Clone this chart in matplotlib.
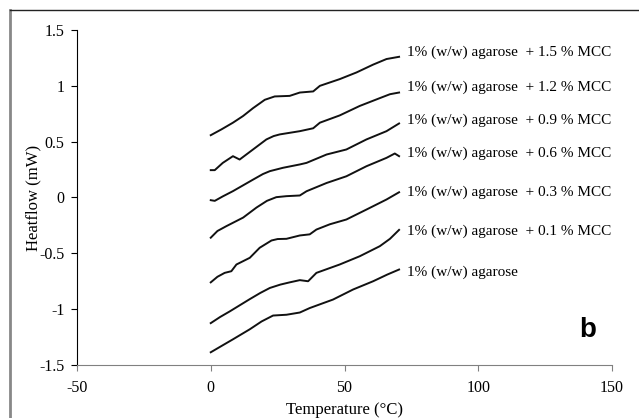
import matplotlib.pyplot as plt
from matplotlib.lines import Line2D

plt.rcParams['font.family'] = ['Liberation Serif', 'DejaVu Serif']

# temperature (°C) sample points and heatflow (mW) for each curve
t_agar = [0, 4.0, 8.3, 14.6, 19.0, 23.3, 28.3, 33.3, 37.0, 41.0, 45.7, 53.2, 60.7, 66.0, 70.4]
hf_agar = [-1.386, -1.33, -1.27, -1.18, -1.11, -1.057, -1.05, -1.03, -0.99, -0.955, -0.914,
           -0.824, -0.75, -0.69, -0.645]

t_01 = [0, 3.5, 7.1, 14.6, 18.5, 22.1, 26.0, 29.5, 33.3, 36.4, 39.5, 48.2, 55.7, 63.2, 67.0, 70.4]
hf_01 = [-1.125, -1.07, -1.02, -0.91, -0.855, -0.81, -0.78, -0.76, -0.74, -0.75, -0.675,
         -0.60, -0.526, -0.436, -0.37, -0.29]

t_03 = [0, 2.5, 5.2, 7.7, 9.6, 14.6, 18.3, 22.7, 25.0, 28.3, 33.3, 37.0, 39.5, 44.5, 50.7,
        58.2, 65.7, 70.4]
hf_03 = [-0.76, -0.71, -0.675, -0.66, -0.60, -0.54, -0.45, -0.385, -0.372, -0.37, -0.34,
         -0.33, -0.287, -0.24, -0.197, -0.108, -0.018, 0.047]

t_06 = [0, 2.5, 5.8, 12.1, 17.1, 21.0, 24.5, 28.3, 33.3, 35.8, 43.3, 50.7, 58.2, 65.7, 68.8, 70.4]
hf_06 = [-0.36, -0.30, -0.257, -0.18, -0.09, -0.03, 0.003, 0.012, 0.018, 0.056, 0.13, 0.19,
         0.28, 0.355, 0.394, 0.37]

t_09 = [0, 1.5, 4.5, 8.3, 15.8, 19.5, 22.1, 27.0, 33.3, 35.8, 43.3, 50.7, 58.2, 65.7, 70.4]
hf_09 = [-0.024, -0.03, 0.01, 0.057, 0.16, 0.21, 0.236, 0.266, 0.296, 0.31, 0.385, 0.43,
         0.52, 0.594, 0.663]

t_12 = [0, 1.5, 4.5, 8.3, 10.8, 15.8, 20.8, 23.5, 25.8, 33.3, 38.3, 40.8, 48.2, 55.7, 63.2,
        67.0, 70.4]
hf_12 = [0.245, 0.245, 0.31, 0.37, 0.34, 0.43, 0.52, 0.55, 0.565, 0.594, 0.62, 0.67, 0.735,
         0.82, 0.89, 0.925, 0.94]

t_15 = [0, 4.0, 8.3, 12.1, 15.8, 20.2, 23.9, 29.5, 33.3, 38.3, 40.8, 48.2, 54.5, 60.7, 65.7, 70.4]
hf_15 = [0.558, 0.61, 0.67, 0.73, 0.80, 0.875, 0.905, 0.91, 0.94, 0.95, 1.00, 1.06, 1.12,
         1.19, 1.24, 1.26]

labels = ['1% (w/w) agarose',
          '1% (w/w) agarose  + 0.1 % MCC',
          '1% (w/w) agarose  + 0.3 % MCC',
          '1% (w/w) agarose  + 0.6 % MCC',
          '1% (w/w) agarose  + 0.9 % MCC',
          '1% (w/w) agarose  + 1.2 % MCC',
          '1% (w/w) agarose  + 1.5 % MCC']
label_y = [-0.672, -0.305, 0.045, 0.394, 0.69, 0.986, 1.30]

fig = plt.figure(figsize=(6.39, 4.18), dpi=100)
ax = fig.add_axes([77 / 639, 1 - 365 / 418, 535 / 639, 335 / 418])

curves = [(t_agar, hf_agar), (t_01, hf_01), (t_03, hf_03), (t_06, hf_06),
          (t_09, hf_09), (t_12, hf_12), (t_15, hf_15)]
for (t, hf), lab, ly in zip(curves, labels, label_y):
    ax.plot(t, hf, color='#111111', lw=1.4)
    ax.text(73.5, ly, lab, fontsize=11, va='center', ha='left')

ax.set_xlim(-50, 150)
ax.set_ylim(-1.5, 1.5)
ax.set_xticks([-50, 0, 50, 100, 150])
ax.set_yticks([-1.5, -1, -0.5, 0, 0.5, 1, 1.5])
ax.set_xticklabels(['-50', '0', '50', '100', '150'])
ax.set_yticklabels(['-1.5', '-1', '-0.5', '0', '0.5', '1', '1.5'])
ax.tick_params(labelsize=11.5, direction='out', length=4)
ax.tick_params(axis='x', color='#808080', pad=7)
ax.tick_params(axis='y', pad=5)
ax.spines['top'].set_visible(False)
ax.spines['right'].set_visible(False)
ax.spines['bottom'].set_color('#808080')
ax.set_xlabel('Temperature (°C)', fontsize=12)
ax.set_ylabel('Heatflow (mW)', fontsize=12)
ax.xaxis.set_label_coords(0.5, -0.11)
ax.yaxis.set_label_coords(-0.066, 0.5)
ax.text(0.955, 0.105, 'b', transform=ax.transAxes, fontsize=20, fontweight='bold',
        family='Liberation Sans', ha='center', va='center')

# figure border
fig.add_artist(Line2D([10 / 639, 10 / 639], [0, 1 - 10 / 418], transform=fig.transFigure,
                      color='#888888', lw=2))
fig.add_artist(Line2D([10 / 639, 1], [1 - 10 / 418, 1 - 10 / 418], transform=fig.transFigure,
                      color='#222222', lw=1))

plt.savefig('out.png', dpi=100)
